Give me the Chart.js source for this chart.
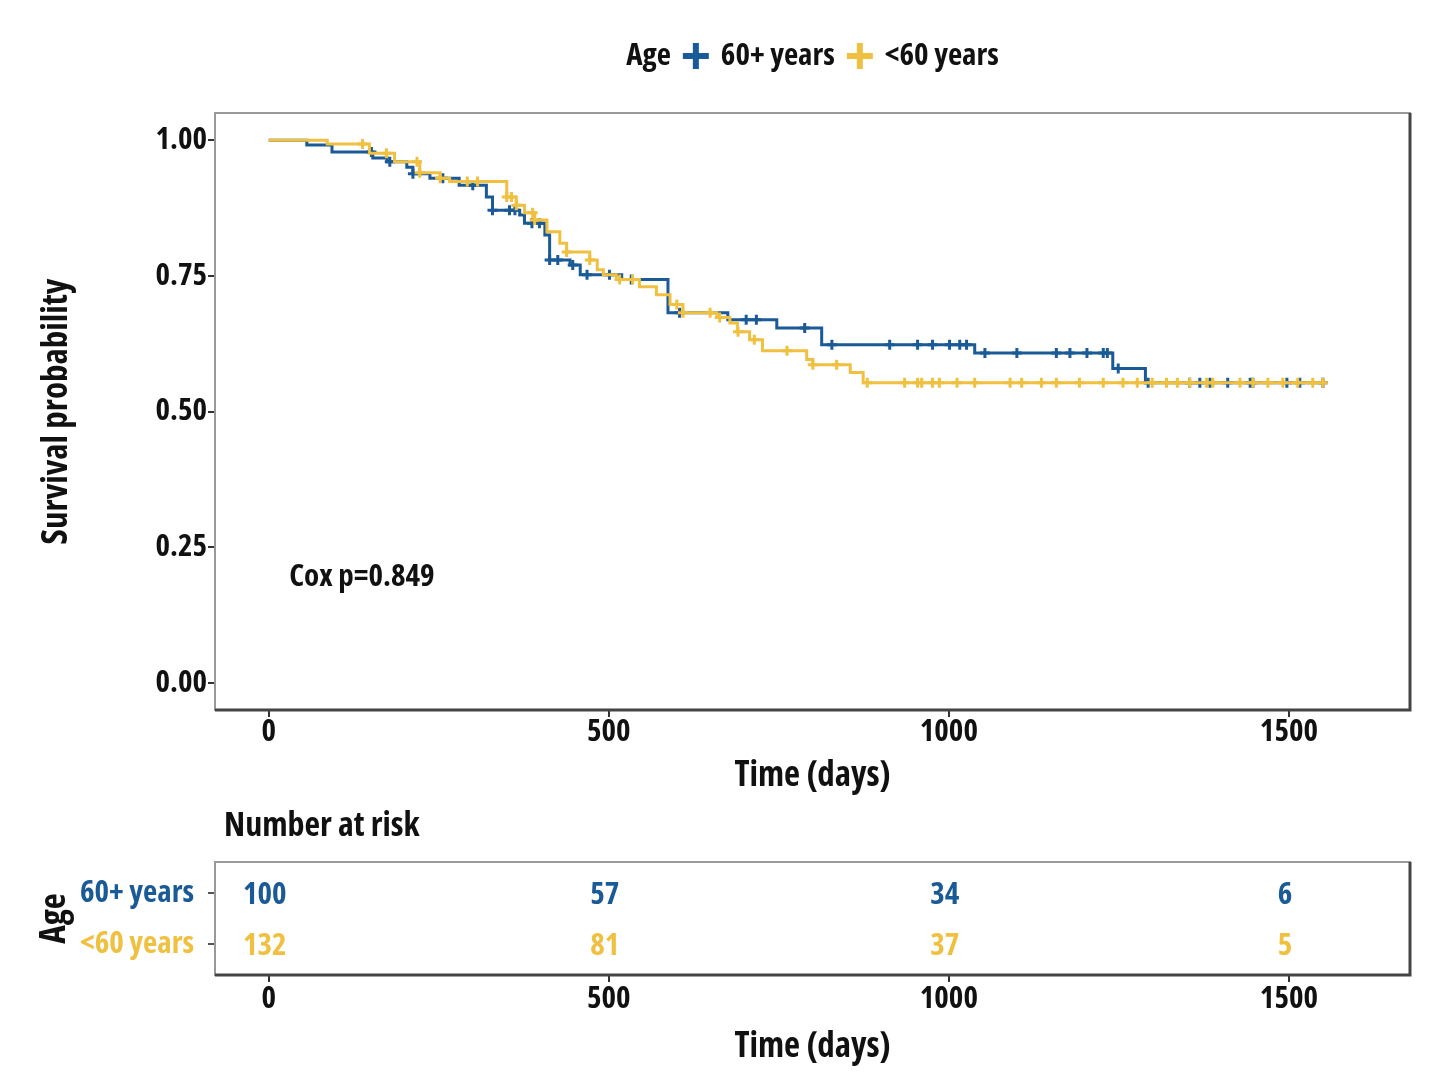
<!DOCTYPE html>
<html>
<head>
<meta charset="utf-8">
<script src="https://cdn.jsdelivr.net/npm/chart.js@4.4.1/dist/chart.umd.min.js"></script>
<style>
  body { margin: 0; background: #fff; }
  #wrap { position: relative; width: 1453px; height: 1081px; }
  #survBox { position: absolute; left: 0; top: 0; width: 1453px; height: 800px; }
  #riskBox { position: absolute; left: 0; top: 800px; width: 1453px; height: 281px; }
</style>
</head>
<body>
<div id="wrap">
  <div id="survBox"><canvas id="surv" width="1453" height="800"></canvas></div>
  <div id="riskBox"><canvas id="risk" width="1453" height="281"></canvas></div>
</div>
<script>
// groups
const groupNames = ["60+ years", "<60 years"];
const groupColors = ["#1a5a96", "#f0c040"];

// Kaplan-Meier steps, 60+ years
const oldTimes = [0, 56, 93, 153, 174, 203, 212, 237, 280, 320, 329, 369, 376, 406, 413, 443, 458, 519, 587, 675, 747, 813, 1038, 1241, 1289, 1552];
const oldSurv = [1.0, 0.991, 0.978, 0.967, 0.96, 0.95, 0.938, 0.93, 0.917, 0.895, 0.871, 0.862, 0.847, 0.825, 0.779, 0.77, 0.752, 0.743, 0.682, 0.669, 0.654, 0.623, 0.608, 0.579, 0.553, 0.553];
const oldCensor = [151, 178, 212, 256, 300, 329, 354, 362, 387, 398, 413, 425, 447, 468, 501, 533, 604, 702, 717, 788, 828, 913, 954, 976, 1001, 1016, 1026, 1053, 1100, 1158, 1178, 1203, 1227, 1233, 1249, 1293, 1354, 1369, 1384, 1410, 1443, 1447, 1497, 1516, 1550];

// Kaplan-Meier steps, <60 years
const youngTimes = [0, 86, 148, 185, 222, 252, 266, 350, 364, 376, 391, 409, 428, 438, 472, 483, 492, 511, 545, 570, 590, 609, 659, 678, 689, 707, 726, 791, 800, 855, 874, 1552];
const youngSurv = [1.0, 0.993, 0.976, 0.96, 0.94, 0.93, 0.924, 0.895, 0.88, 0.866, 0.853, 0.831, 0.81, 0.794, 0.779, 0.761, 0.752, 0.743, 0.73, 0.715, 0.697, 0.682, 0.673, 0.663, 0.647, 0.632, 0.612, 0.596, 0.586, 0.572, 0.553, 0.553];
const youngCensor = [138, 173, 218, 222, 252, 292, 307, 350, 357, 364, 388, 391, 438, 472, 516, 535, 600, 609, 649, 663, 690, 714, 762, 800, 835, 880, 935, 954, 960, 976, 986, 1012, 1038, 1090, 1107, 1136, 1158, 1192, 1227, 1256, 1277, 1299, 1320, 1336, 1354, 1379, 1388, 1428, 1447, 1469, 1491, 1513, 1535, 1550];

// axis ticks
const timeTicks = [0, 500, 1000, 1500];
const survTicks = [0, 0.25, 0.5, 0.75, 1.0];

// number at risk
const riskTimes = [0, 500, 1000, 1500];
const riskOld = [100, 57, 34, 6];
const riskYoung = [132, 81, 37, 5];

const coxText = "Cox p=0.849";

// pick a condensed bold face that is really installed
function pickFont() {
  const c = document.createElement("canvas").getContext("2d");
  const sample = "60+ years Survival 0.849";
  const w = f => { c.font = f; return c.measureText(sample).width; };
  const base = w("bold 40px monospace");
  const plain = w("bold 40px 'Noto Sans', monospace");
  const tries = [
    { weight: "bold", family: "'Liberation Sans Narrow'" },
    { weight: "bold", family: "'Noto Sans Condensed'" },
    { weight: "bold condensed", family: "'Noto Sans'" },
    { weight: "bold condensed", family: "'Open Sans'" },
    { weight: "bold", family: "'Roboto Condensed'" }
  ];
  for (const t of tries) {
    const got = w(t.weight + " 40px " + t.family + ", monospace");
    if (got !== base && got < plain * 0.9) return t;
  }
  return { weight: "bold", family: "'DejaVu Sans Condensed'" };
}
const picked = pickFont();
const FONT = picked.family + ", 'DejaVu Sans Condensed', sans-serif";
const WEIGHT = picked.weight;

function stepPoints(times, surv) {
  return times.map((t, i) => ({ x: t, y: surv[i] }));
}

// survival value at a censor time, from the step table
function survAt(times, surv, t) {
  let s = surv[0];
  for (let i = 0; i < times.length; i++) {
    if (times[i] <= t) s = surv[i];
  }
  return s;
}

function censorPoints(times, surv, censor) {
  return censor.map(t => ({ x: t, y: survAt(times, surv, t) }));
}

function drawCross(ctx, cx, cy, size, thick, color) {
  ctx.fillStyle = color;
  ctx.fillRect(cx - size / 2, cy - thick / 2, size, thick);
  ctx.fillRect(cx - thick / 2, cy - size / 2, thick, size);
}

function f(size) {
  return { family: FONT, size: size, weight: WEIGHT, lineHeight: 1.2 };
}

// grey panel border like the ggplot theme
const boxPlugin = {
  id: "box",
  afterDraw(chart) {
    const { ctx, chartArea: a } = chart;
    ctx.save();
    ctx.strokeStyle = "#999";
    ctx.lineWidth = 2;
    ctx.strokeRect(a.left, a.top, a.right - a.left, a.bottom - a.top);
    ctx.strokeStyle = "#444";
    ctx.lineWidth = 3;
    ctx.beginPath();
    ctx.moveTo(a.left, a.bottom);
    ctx.lineTo(a.right, a.bottom);
    ctx.lineTo(a.right, a.top);
    ctx.stroke();
    ctx.restore();
  }
};

// legend on top + Cox p annotation
const survTextPlugin = {
  id: "survText",
  afterDraw(chart) {
    const ctx = chart.ctx;
    const x = chart.scales.x, y = chart.scales.y;
    ctx.save();
    ctx.fillStyle = "#111";
    ctx.textBaseline = "middle";
    ctx.textAlign = "left";
    ctx.font = WEIGHT + " 31px " + FONT;
    ctx.fillText(coxText, x.getPixelForValue(30), y.getPixelForValue(0.195));

    // legend
    ctx.font = WEIGHT + " 31px " + FONT;
    const keyW = 26, gap = 12;
    const title = "Age";
    let total = ctx.measureText(title).width + gap;
    groupNames.forEach((n, i) => {
      total += keyW + gap + ctx.measureText(n).width + (i < groupNames.length - 1 ? gap : 0);
    });
    let lx = (chart.chartArea.left + chart.chartArea.right) / 2 - total / 2;
    const ly = 56;
    ctx.fillStyle = "#111";
    ctx.fillText(title, lx, ly);
    lx += ctx.measureText(title).width + gap;
    groupNames.forEach((n, i) => {
      drawCross(ctx, lx + keyW / 2, ly, keyW, 6, groupColors[i]);
      lx += keyW + gap;
      ctx.fillStyle = "#111";
      ctx.fillText(n, lx, ly);
      lx += ctx.measureText(n).width + gap;
    });
    ctx.restore();
  }
};

new Chart(document.getElementById("surv"), {
  type: "line",
  data: {
    datasets: [
      {
        label: groupNames[0],
        data: stepPoints(oldTimes, oldSurv),
        stepped: "before",
        borderColor: groupColors[0],
        borderWidth: 3,
        pointRadius: 0,
        fill: false,
        order: 3
      },
      {
        label: groupNames[0] + " censored",
        type: "scatter",
        data: censorPoints(oldTimes, oldSurv, oldCensor),
        pointStyle: "cross",
        pointRadius: 5,
        borderColor: groupColors[0],
        borderWidth: 3,
        order: 2
      },
      {
        label: groupNames[1],
        data: stepPoints(youngTimes, youngSurv),
        stepped: "before",
        borderColor: groupColors[1],
        borderWidth: 3,
        pointRadius: 0,
        fill: false,
        order: 1
      },
      {
        label: groupNames[1] + " censored",
        type: "scatter",
        data: censorPoints(youngTimes, youngSurv, youngCensor),
        pointStyle: "cross",
        pointRadius: 5,
        borderColor: groupColors[1],
        borderWidth: 3,
        order: 0
      }
    ]
  },
  options: {
    responsive: false,
    animation: false,
    layout: { padding: { top: 113, right: 43, left: 0, bottom: 0 } },
    plugins: { legend: { display: false }, tooltip: { enabled: false } },
    scales: {
      x: {
        type: "linear",
        min: -79,
        max: 1678,
        afterBuildTicks: s => { s.ticks = timeTicks.map(v => ({ value: v })); },
        afterFit: s => { s.height = 90; },
        ticks: { color: "#111", padding: 0, callback: v => String(v), font: { ...f(31), lineHeight: 1 } },
        grid: { drawOnChartArea: false, drawTicks: true, tickLength: 7, color: "#333", lineWidth: 2 },
        border: { display: false },
        title: { display: true, text: "Time (days)", color: "#111", padding: { top: 0, bottom: 3 }, font: f(35) }
      },
      y: {
        type: "linear",
        min: -0.05,
        max: 1.05,
        afterBuildTicks: s => { s.ticks = survTicks.map(v => ({ value: v })); },
        afterFit: s => { s.width = 215; },
        ticks: { color: "#111", padding: 1, callback: v => v.toFixed(2), font: f(31) },
        grid: { drawOnChartArea: false, drawTicks: true, tickLength: 7, color: "#333", lineWidth: 2 },
        border: { display: false },
        title: { display: true, text: "Survival probability", color: "#111", padding: { top: 36, bottom: 0 }, font: f(35) }
      }
    }
  },
  plugins: [boxPlugin, survTextPlugin]
});

// number-at-risk table
const riskTextPlugin = {
  id: "riskText",
  afterDraw(chart) {
    const ctx = chart.ctx;
    const x = chart.scales.x, y = chart.scales.y;
    ctx.save();
    ctx.textBaseline = "middle";
    ctx.textAlign = "left";
    ctx.fillStyle = "#111";
    ctx.font = WEIGHT + " 34px " + FONT;
    ctx.fillText("Number at risk", 224, 26);
    ctx.textAlign = "center";
    ctx.font = WEIGHT + " 31px " + FONT;
    [riskOld, riskYoung].forEach((row, g) => {
      ctx.fillStyle = groupColors[g];
      row.forEach((n, i) => {
        ctx.fillText(String(n), x.getPixelForValue(riskTimes[i]) - 4, y.getPixelForValue(2 - g) + 2);
      });
    });
    ctx.restore();
  }
};

new Chart(document.getElementById("risk"), {
  type: "scatter",
  data: { datasets: [] },
  options: {
    responsive: false,
    animation: false,
    layout: { padding: { top: 62, right: 43, left: 0, bottom: 0 } },
    plugins: { legend: { display: false }, tooltip: { enabled: false } },
    scales: {
      x: {
        type: "linear",
        min: -79,
        max: 1678,
        afterBuildTicks: s => { s.ticks = timeTicks.map(v => ({ value: v })); },
        afterFit: s => { s.height = 106; },
        ticks: { color: "#111", padding: 2, callback: v => String(v), font: { ...f(31), lineHeight: 1 } },
        grid: { drawOnChartArea: false, drawTicks: true, tickLength: 7, color: "#333", lineWidth: 2 },
        border: { display: false },
        title: { display: true, text: "Time (days)", color: "#111", padding: { top: 0, bottom: 13 }, font: f(35) }
      },
      y: {
        type: "linear",
        min: 0.4,
        max: 2.6,
        afterBuildTicks: s => { s.ticks = [2, 1].map(v => ({ value: v })); },
        afterFit: s => { s.width = 215; },
        ticks: {
          padding: 14,
          callback: v => groupNames[2 - v],
          color: c => groupColors[2 - c.tick.value],
          font: f(31)
        },
        grid: { drawOnChartArea: false, drawTicks: true, tickLength: 7, color: "#555", lineWidth: 2 },
        border: { display: false },
        title: { display: true, text: "Age", color: "#111", padding: { top: 34, bottom: 0 }, font: f(35) }
      }
    }
  },
  plugins: [boxPlugin, riskTextPlugin]
});
</script>
</body>
</html>
